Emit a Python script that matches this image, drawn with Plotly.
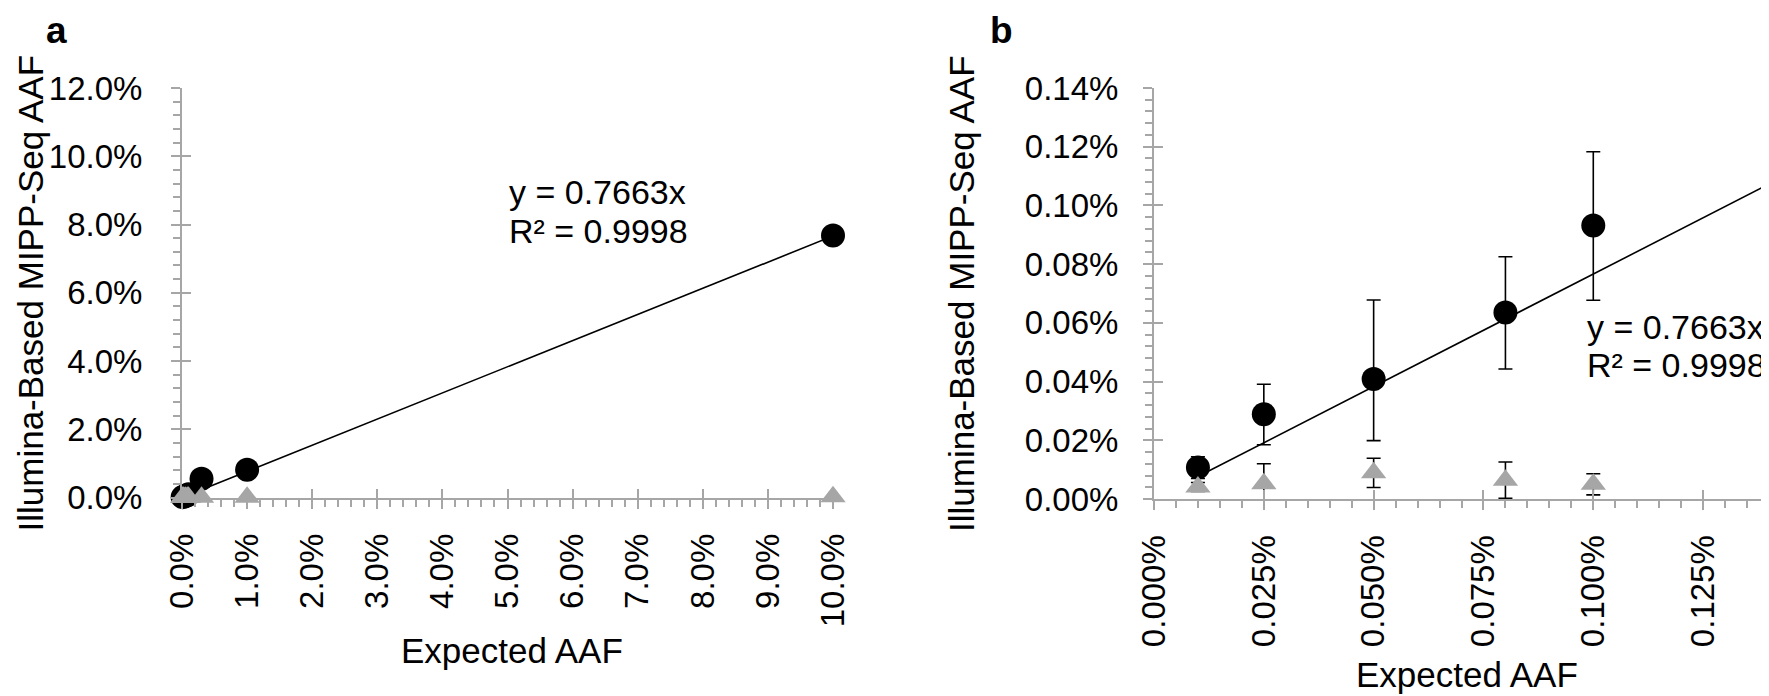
import plotly.graph_objects as go

# The page body has an 8px default margin, so the figure is made 16px smaller than
# the 1769x696 window and every position below is given in window pixels minus 8.
VW, VH = 1769, 696
OFF = 8
W, H = VW - OFF, VH - OFF

# ---------------- data (all values in percent) ----------------
# Panel a
a_expected = [0.01, 0.025, 0.05, 0.08, 0.1, 0.3, 1.0, 10.0]
a_mutant = [0.0107, 0.0289, 0.0409, 0.0635, 0.0932, 0.55, 0.81, 7.68]
a_wildtype = [0.0041, 0.0052, 0.0089, 0.0064, 0.0050, 0.005, 0.01, 0.02]

# Panel b
b_expected = [0.01, 0.025, 0.05, 0.08, 0.1]
b_mutant = [0.0107, 0.0289, 0.0409, 0.0635, 0.0932]
b_mutant_err_plus = [0.0037, 0.0102, 0.0269, 0.0190, 0.0251]
b_mutant_err_minus = [0.0037, 0.0104, 0.0210, 0.0192, 0.0255]
b_wildtype = [0.0041, 0.0052, 0.0089, 0.0064, 0.0050]
b_wildtype_err = [0.0015, 0.0068, 0.0050, 0.0062, 0.0036]

# Linear trendline (through origin)
slope = 0.7663
r_squared = 0.9998
a_trend_x = [0.01, 10.0]
b_trend_x = [0.01, 0.14]

# axis ranges
a_x_range, a_y_range = [0, 10], [0, 12]
b_x_range, b_y_range = [0, 0.14], [0, 0.14]

# ---------------- style ----------------
GRAY = "#a6a6a6"
FONT = "Arial, Liberation Sans, sans-serif"
FS = 33

fig = go.Figure()

def add_panel(xa, ya, ex, mut, wt, trend_x, mut_err=None, wt_err=None):
    ekw = {}
    if mut_err is not None:
        ekw = dict(error_y=dict(type="data", symmetric=False, array=mut_err[0],
                                arrayminus=mut_err[1], color="black",
                                thickness=1.6, width=7))
    fig.add_trace(go.Scatter(x=ex, y=mut, mode="markers", xaxis=xa, yaxis=ya,
                             marker=dict(symbol="circle", size=24, color="black",
                                         line=dict(width=0)),
                             cliponaxis=False, showlegend=False, **ekw))
    fig.add_trace(go.Scatter(x=trend_x, y=[slope * v for v in trend_x], mode="lines",
                             xaxis=xa, yaxis=ya, line=dict(color="black", width=1.6),
                             showlegend=False, hoverinfo="skip"))
    wkw = {}
    if wt_err is not None:
        wkw = dict(error_y=dict(type="data", array=wt_err, color="black",
                                thickness=1.6, width=7))
    fig.add_trace(go.Scatter(x=ex, y=wt, mode="markers", xaxis=xa, yaxis=ya,
                             marker=dict(symbol="triangle-up", size=22, color=GRAY,
                                         line=dict(width=0)),
                             cliponaxis=False, showlegend=False, **wkw))

add_panel("x", "y", a_expected, a_mutant, a_wildtype, a_trend_x)
add_panel("x2", "y2", b_expected, b_mutant, b_wildtype, b_trend_x,
          mut_err=(b_mutant_err_plus, b_mutant_err_minus), wt_err=b_wildtype_err)

# placeholder traces so that the overlay axes (inner half of the crossing ticks) are drawn
fig.add_trace(go.Scatter(x=[None], y=[None], xaxis="x3", yaxis="y3", showlegend=False, hoverinfo="skip"))
fig.add_trace(go.Scatter(x=[None], y=[None], xaxis="x4", yaxis="y4", showlegend=False, hoverinfo="skip"))

tickfont = dict(family=FONT, size=FS, color="black")

def main_axis(domain, rng, dtick, minor, fmt, anchor, angle=None, standoff=None):
    d = dict(domain=domain, range=rng, anchor=anchor, tick0=0, dtick=dtick,
             automargin=False,
             ticks="outside", ticklen=9, tickwidth=2, tickcolor=GRAY,
             showline=True, linecolor=GRAY, linewidth=2,
             showgrid=False, zeroline=False, tickformat=fmt, ticksuffix="%",
             tickfont=tickfont,
             minor=dict(dtick=minor, tick0=0, ticks="outside", ticklen=7, tickwidth=2,
                        tickcolor=GRAY, showgrid=False))
    if angle is not None:
        d["tickangle"] = angle
    if standoff is not None:
        d["ticklabelstandoff"] = standoff
    return d

def inner_axis(over, anchor, rng, dtick, side):
    return dict(overlaying=over, anchor=anchor, range=rng, tick0=0, dtick=dtick,
                automargin=False,
                ticks="inside", ticklen=9, tickwidth=2, tickcolor=GRAY,
                showticklabels=False, showline=False, showgrid=False,
                zeroline=False, side=side)

def px_x(v):
    return (v - OFF) / W

def px_y(v):
    return 1 - (v - OFF) / H

xa_dom = [px_x(182), px_x(833)]
ya_dom = [px_y(497.5), px_y(88)]
xb_dom = [px_x(1154), 1.0]
yb_dom = [px_y(499), px_y(88)]

fig.update_layout(
    width=W, height=H, autosize=False,
    margin=dict(l=0, r=0, t=0, b=0, pad=0),
    paper_bgcolor="white", plot_bgcolor="rgba(0,0,0,0)",
    font=dict(family=FONT, size=FS, color="black"),
    showlegend=False,
    xaxis=main_axis(xa_dom, a_x_range, 1, 0.2, ".1f", "y", angle=-90, standoff=12),
    yaxis=main_axis(ya_dom, a_y_range, 2, 0.4, ".1f", "x", standoff=22),
    xaxis2=main_axis(xb_dom, b_x_range, 0.025, 0.005, ".3f", "y2", angle=-90, standoff=12),
    yaxis2=main_axis(yb_dom, b_y_range, 0.02, 0.004, ".2f", "x2", standoff=18),
    xaxis3=inner_axis("x", "y3", a_x_range, 1, "bottom"),
    yaxis3=inner_axis("y", "x3", a_y_range, 2, "left"),
    xaxis4=inner_axis("x2", "y4", b_x_range, 0.025, "bottom"),
    yaxis4=inner_axis("y2", "x4", b_y_range, 0.02, "left"),
)

def txt(text, x, y, xanchor="center", yanchor="middle", angle=0, size=FS, bold=False):
    fig.add_annotation(text=f"<b>{text}</b>" if bold else text,
                       x=x, y=y, xref="paper", yref="paper",
                       xanchor=xanchor, yanchor=yanchor, textangle=angle,
                       showarrow=False, font=dict(family=FONT, size=size, color="black"))

y_title = "Illumina-Based MIPP-Seq AAF"
x_title = "Expected AAF"
eq_text = f"y = {slope:.4f}x"
r2_text = f"R² = {r_squared:.4f}"

TS = 35   # axis title size
ES = 34   # equation size

# axis titles
txt(y_title, 0.0, px_y(293), xanchor="left", angle=-90, size=TS)
txt(y_title, px_x(961.5), px_y(293.5), angle=-90, size=TS)
txt(x_title, px_x(512), px_y(650.5), size=TS)
txt(x_title, px_x(1467), px_y(674), size=TS)

# trendline equations
txt(eq_text, px_x(507), px_y(192.5), xanchor="left", size=ES)
txt(r2_text, px_x(507), px_y(231), xanchor="left", size=ES)
txt(eq_text, px_x(1585), px_y(326.5), xanchor="left", size=ES)
txt(r2_text, px_x(1585), px_y(365), xanchor="left", size=ES)

# panel letters
txt("a", px_x(56), 1.0, yanchor="top", size=37, bold=True)
txt("b", px_x(1001), 1.0, yanchor="top", size=37, bold=True)

fig.write_html("out.html")
